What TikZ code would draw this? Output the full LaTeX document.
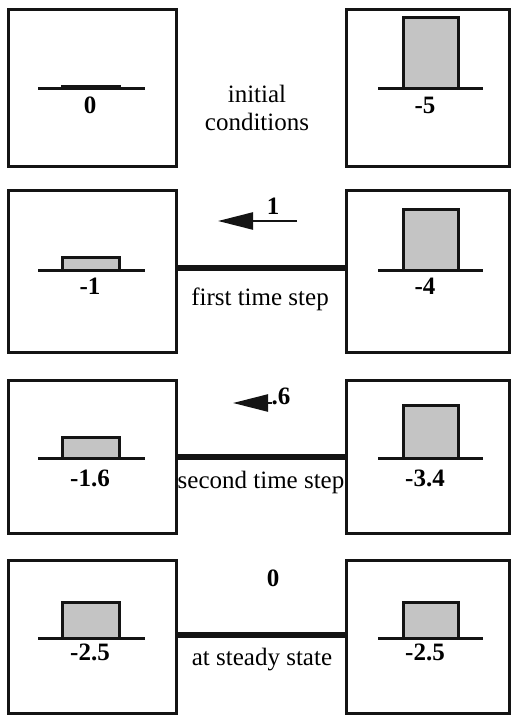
\documentclass[tikz,border=0pt]{standalone}
\usepackage{fontspec}
\setmainfont{Liberation Serif}
\usetikzlibrary{arrows.meta,positioning,calc}
\definecolor{ink}{HTML}{141414}
\definecolor{sand}{HTML}{C4C4C4}
\tikzset{
  tank/.style={draw=ink,line width=3pt,inner sep=0pt},
  ground/.style={draw=ink,line width=3pt},
  pile/.style={draw=ink,fill=sand,line width=3pt},
  link/.style={draw=ink,line width=5.5pt},
  flow/.style={draw=ink,line width=2.4pt,-{Triangle[length=35pt,width=17pt]}},
  val/.style={anchor=base,font=\fontsize{25}{31}\selectfont\bfseries},
  caption/.style={anchor=base,align=center}
}

\begin{document}
\begin{tikzpicture}[x=1pt,y=-1pt,font=\fontsize{25}{31}\selectfont]
  \useasboundingbox (0,0) rectangle (511,715);
  % the two reservoirs, one row per stage
  \foreach \r/\top/\bot/\gnd/\lh/\rh/\ly/\lv/\rv in {1/9/166/88/86/17/113/0/-5,2/190/352/270/257/209/294/-1/-4,3/380/533/458/437/405/486/-1.6/-3.4,4/560/713/638/602/602/660/-2.5/-2.5}{
    \node[tank,minimum width=168pt,minimum height={\bot-\top}] (L\r) at (92,{(\top+\bot)/2}) {};
    \node[tank,minimum width=163pt,minimum height={\bot-\top}] (R\r) at (427.5,{(\top+\bot)/2}) {};
    \draw[ground] (38,\gnd) -- (145,\gnd);
    \draw[ground] (378,\gnd) -- (483,\gnd);
    \draw[pile] (62,\gnd) rectangle (119,\lh);
    \draw[pile] (403,\gnd) rectangle (458,\rh);
    \node[val] (lv\r) at (90,\ly) {\lv};
    \node[val] (rv\r) at (425,\ly) {\rv};
  }
  \node[anchor=center,align=center] (c1) at (257,108) {initial\\[-3pt]conditions};

  % pipes between the reservoirs
  \draw[link] (L2.east |- 0,268) -- (R2.west |- 0,268);
  \draw[link] (L3.east |- 0,457) -- (R3.west |- 0,457);
  \draw[link] (L4.east |- 0,635) -- (R4.west |- 0,635);
  \node[caption] (c2) at (260,305) {first time step};
  \node[caption] (c3) at (261,488) {second time step};
  \node[caption] (c4) at (262,665) {at steady state};

  % flow along the pipe
  \coordinate (f2s) at (297,221);
  \coordinate (f2e) at (218,221);
  \draw[flow] (f2s) -- (f2e);
  \node[val] (q2) at (273,214) {1};
  \coordinate (f3s) at (272,403);
  \coordinate (f3e) at (233,403);
  \draw[flow] (f3s) -- (f3e);
  \node[val] (q3) at (281,404) {.6};
  \node[val] (q4) at (273,586) {0};
\end{tikzpicture}
\end{document}
